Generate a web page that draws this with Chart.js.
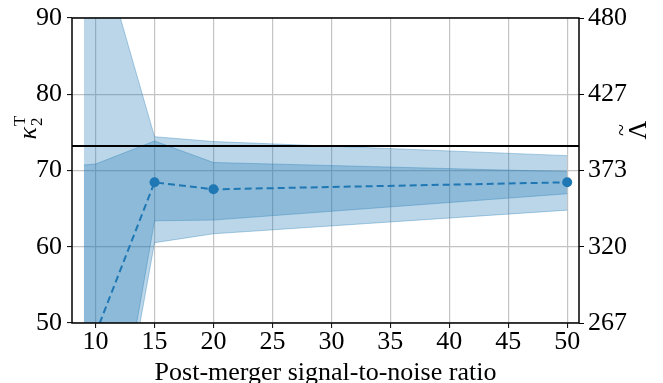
<!DOCTYPE html>
<html>
<head>
<meta charset="utf-8">
<script src="https://cdn.jsdelivr.net/npm/chart.js@4.4.1/dist/chart.umd.min.js"></script>
<style>
  body { margin: 0; background: #fff; }
  canvas { display: block; }
</style>
</head>
<body>
<canvas id="snrChart" width="663" height="383"></canvas>
<script>
// median kappa_2^T at each post-merger SNR
const snr = [10, 15, 20, 50];
const kappaMedian = [48.6, 68.45, 67.53, 68.45];

// credible bands
const bandSnr = [9, 10, 15, 20, 50];
const outerLow = [10, 17.7, 60.53, 61.7, 64.8];
const outerHigh = [106, 101.3, 74.43, 73.8, 71.95];
const innerLow = [12, 19.1, 63.4, 63.5, 66.95];
const innerHigh = [70.72, 70.85, 73.87, 71.05, 69.85];

// injected value
const kappaRef = 73.2;

const xTicks = [10, 15, 20, 25, 30, 35, 40, 45, 50];
const kappaTicks = [50, 60, 70, 80, 90];
const lambdaTicks = ['267', '320', '373', '427', '480'];

const C0 = '#1f77b4';
const bandFill = 'rgba(31,119,180,0.3)';
const bandEdge = 'rgba(31,119,180,0.35)';
const gridCol = '#c4c4c4';
const FONT = '"Liberation Serif", "DejaVu Serif", serif';

const pts = (xs, ys) => xs.map((x, i) => ({x: x, y: ys[i]}));

const fixTicks = (vals) => (scale) => { scale.ticks = vals.map(v => ({value: v})); };

const titlesPlugin = {
  id: 'titles',
  afterDraw(chart) {
    const {ctx, chartArea: a} = chart;
    ctx.save();
    // frame
    ctx.strokeStyle = '#000';
    ctx.lineWidth = 1.5;
    ctx.strokeRect(a.left, a.top, a.right - a.left, a.bottom - a.top);

    ctx.fillStyle = '#000';
    ctx.textAlign = 'center';
    ctx.textBaseline = 'alphabetic';
    ctx.font = '26px ' + FONT;
    ctx.fillText('Post-merger signal-to-noise ratio', (a.left + a.right) / 2, 380);

    // left title: kappa_2^T
    ctx.save();
    ctx.translate(36, 128);
    ctx.rotate(-Math.PI / 2);
    ctx.textAlign = 'left';
    ctx.font = 'italic 26px ' + FONT;
    const kw = ctx.measureText('κ').width;
    ctx.font = '17px ' + FONT;
    const sw = ctx.measureText('T').width;
    const x0 = -(kw + sw) / 2;
    ctx.font = 'italic 26px ' + FONT;
    ctx.fillText('κ', x0, 0);
    ctx.font = '17px ' + FONT;
    ctx.fillText('T', x0 + kw + 1, -11);
    ctx.fillText('2', x0 + kw + 1, 6);
    ctx.restore();

    // right title: Lambda tilde
    ctx.save();
    ctx.translate(646, 130);
    ctx.rotate(-Math.PI / 2);
    ctx.textAlign = 'center';
    ctx.font = '26px ' + FONT;
    ctx.fillText('Λ', 0, 0);
    ctx.font = '22px ' + FONT;
    ctx.fillText('~', 0, -18);
    ctx.restore();
    ctx.restore();
  }
};

new Chart(document.getElementById('snrChart'), {
  type: 'line',
  data: {
    datasets: [
      {data: pts(bandSnr, outerLow), borderColor: bandEdge, borderWidth: 1, pointRadius: 0, fill: false, order: 4},
      {data: pts(bandSnr, outerHigh), borderColor: bandEdge, borderWidth: 1, pointRadius: 0, fill: '-1', backgroundColor: bandFill, order: 4},
      {data: pts(bandSnr, innerLow), borderColor: bandEdge, borderWidth: 1, pointRadius: 0, fill: false, order: 3},
      {data: pts(bandSnr, innerHigh), borderColor: bandEdge, borderWidth: 1, pointRadius: 0, fill: '-1', backgroundColor: bandFill, order: 3},
      {data: [{x: 8, y: kappaRef}, {x: 51, y: kappaRef}], borderColor: '#000', borderWidth: 2, pointRadius: 0, fill: false, order: 1},
      {data: pts(snr, kappaMedian), borderColor: C0, borderWidth: 2, borderDash: [7, 4],
       pointRadius: 5, pointBackgroundColor: C0, pointBorderWidth: 0, fill: false, order: 0}
    ]
  },
  options: {
    responsive: false,
    animation: false,
    layout: {padding: {top: 18, left: 0, right: 0, bottom: 0}},
    plugins: {legend: {display: false}, tooltip: {enabled: false}},
    elements: {line: {tension: 0}},
    scales: {
      x: {
        type: 'linear', min: 8, max: 51,
        afterBuildTicks: fixTicks(xTicks),
        afterFit: (s) => { s.height = 60; },
        grid: {color: gridCol, lineWidth: 1.2, tickColor: '#000', tickLength: 5, tickWidth: 1},
        border: {display: false},
        ticks: {color: '#000', font: {family: FONT, size: 26, lineHeight: 1}, padding: 1, maxRotation: 0}
      },
      y: {
        type: 'linear', position: 'left', min: 50, max: 90,
        afterBuildTicks: fixTicks(kappaTicks),
        afterFit: (s) => { s.width = 72; },
        grid: {color: gridCol, lineWidth: 1.2, tickColor: '#000', tickLength: 5, tickWidth: 1},
        border: {display: false},
        ticks: {color: '#000', font: {family: FONT, size: 26, lineHeight: 1}, padding: 5}
      },
      y2: {
        type: 'linear', position: 'right', min: 50, max: 90,
        afterBuildTicks: fixTicks(kappaTicks),
        afterFit: (s) => { s.width = 84; },
        grid: {drawOnChartArea: false, tickColor: '#000', tickLength: 5},
        border: {display: false},
        ticks: {color: '#000', font: {family: FONT, size: 26, lineHeight: 1}, padding: 4,
                callback: (v, i) => lambdaTicks[i]}
      }
    }
  },
  plugins: [titlesPlugin]
});
</script>
</body>
</html>
